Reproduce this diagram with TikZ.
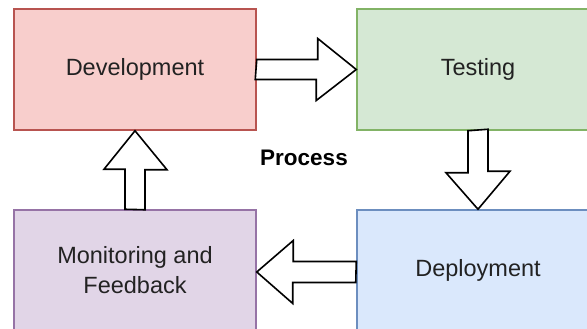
\documentclass[tikz,border=0pt]{standalone}
\usepackage{fontspec}
\setmainfont{Liberation Sans}
\usetikzlibrary{calc}
\definecolor{devfill}{HTML}{F8CECC}\definecolor{devline}{HTML}{B85450}
\definecolor{tstfill}{HTML}{D5E8D4}\definecolor{tstline}{HTML}{82B366}
\definecolor{depfill}{HTML}{DAE8FC}\definecolor{depline}{HTML}{6C8EBF}
\definecolor{monfill}{HTML}{E1D5E7}\definecolor{monline}{HTML}{9673A6}
\definecolor{txt}{HTML}{222222}
\tikzset{
  stage/.style={draw, line width=1.5pt, minimum width=242pt, minimum height=121pt,
    inner sep=0pt, align=center, text=txt,
    font=\fontsize{23.5}{30}\selectfont},
  stagetext/.style={inner sep=0pt, align=center, text=txt, font=\fontsize{23.5}{30}\selectfont},
  barrow/.style={draw=black, fill=white, line width=1.6pt, line join=miter},
}
\begin{document}
\begin{tikzpicture}[x=1pt,y=-1pt]
\useasboundingbox (0,0) rectangle (587,329);
\node[stage, fill=devfill, draw=devline] (dev) at (135,69.5) {Development};
\node[stage, fill=tstfill, draw=tstline, minimum width=300pt] (tst) at (507,69.5) {};
\node[stagetext] (tsttxt) at (478,69.5) {Testing};
\node[stage, fill=depfill, draw=depline, minimum width=300pt] (dep) at (507,270.5) {};
\node[stagetext] (deptxt) at (478,270.5) {Deployment};
\node[stage, fill=monfill, draw=monline] (mon) at (135,270.5) {Monitoring and\\Feedback};
\node[font=\fontsize{22.5}{27}\selectfont\bfseries, text=black] (proc) at (304,158) {Process};
% Development -> Testing
\draw[barrow] ($(dev.east)+(0,-10)$) -- ++(61,0) -- ++(0,-21) -- (tst.west)
  -- ++(-40,31) -- ++(0,-21) -- ++(-61,0) -- cycle;
% Testing -> Deployment
\draw[barrow] ($(tsttxt |- tst.south)+(-10,0)$) -- ++(0,42) -- ++(-22,0) -- (tsttxt |- dep.north)
  -- ++(32,-38) -- ++(-22,0) -- ++(0,-42) -- cycle;
% Deployment -> Monitoring
\draw[barrow] ($(dep.west)+(0,-9)$) -- ++(-63,0) -- ++(0,-21) -- ($(mon.east)+(0,1.5)$)
  -- ++(36,31.5) -- ++(0,-21) -- ++(63,0) -- cycle;
% Monitoring -> Development
\draw[barrow] ($(mon.north)+(-10,0)$) -- ++(0,-40) -- ++(-21,0) -- (dev.south)
  -- ++(32,39) -- ++(-22,0) -- ++(0,40) -- cycle;
\end{tikzpicture}
\end{document}
